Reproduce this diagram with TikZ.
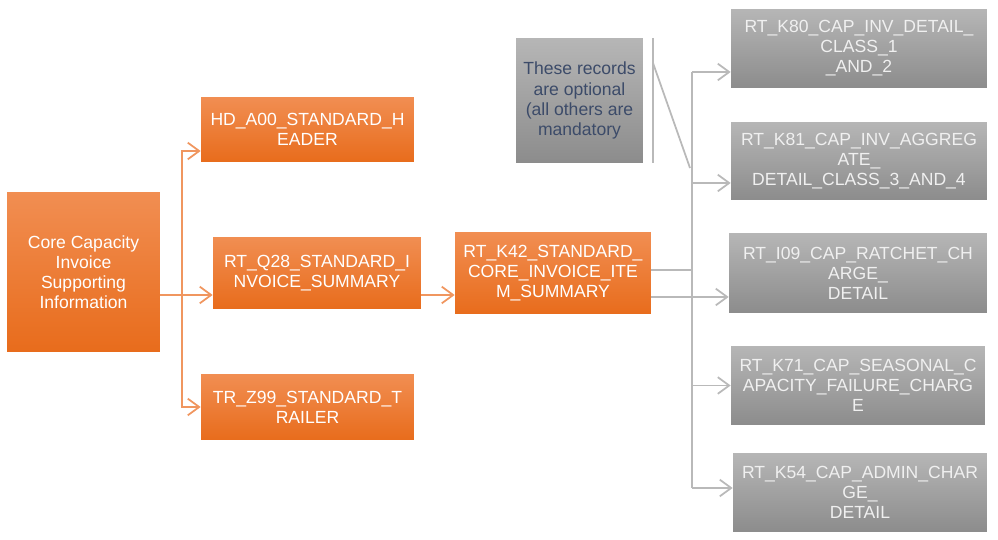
\documentclass[tikz,border=0pt]{standalone}
\usepackage{fontspec}
\setmainfont{Liberation Sans}
\usetikzlibrary{arrows.meta}
\tikzset{>={Straight Barb[length=6.5pt,width=9.5pt]}}
\definecolor{orangetop}{RGB}{241,142,82}
\definecolor{orangebot}{RGB}{232,108,28}
\definecolor{greytop}{RGB}{182,182,182}
\definecolor{greybot}{RGB}{140,140,140}
\definecolor{notetext}{RGB}{60,75,105}
\definecolor{oline}{RGB}{240,150,95}
\colorlet{gline}{gray!55}
\tikzstyle{txt}=[font=\fontsize{10}{11.4}\selectfont,align=center,inner sep=0pt]
\tikzstyle{orec}=[txt,top color=orangetop,bottom color=orangebot,text=white]
\tikzstyle{grec}=[txt,top color=greytop,bottom color=greybot,text=white!94!black]
\tikzstyle{olink}=[oline,line width=1pt]
\tikzstyle{glink}=[gline,line width=1pt]

\begin{document}
\begin{tikzpicture}[x=0.02cm,y=-0.02cm]
  \def\otx{182}
  \def\gtx{692}
  \useasboundingbox (0,0) rectangle (998,540);
  % orange records
  \node[orec,minimum width=3.06cm,minimum height=3.2cm] (core) at (83.5,272)
    {Core Capacity\\Invoice\\Supporting\\Information};
  \node[orec,minimum width=4.26cm,minimum height=1.3cm] (hd) at (307.5,129.5)
    {HD\_A00\_STANDARD\_H\\EADER};
  \node[orec,minimum width=4.16cm,minimum height=1.44cm] (q28) at (317,273)
    {RT\_Q28\_STANDARD\_I\\NVOICE\_SUMMARY};
  \node[orec,minimum width=4.26cm,minimum height=1.32cm] (tr) at (307.5,407)
    {TR\_Z99\_STANDARD\_T\\RAILER};
  \node[orec,minimum width=3.92cm,minimum height=1.64cm] (k42) at (553,273)
    {RT\_K42\_STANDARD\_\\CORE\_INVOICE\_ITE\\M\_SUMMARY};
  % note
  \node[txt,top color=greytop,bottom color=greybot,text=notetext,
    minimum width=2.54cm,minimum height=2.5cm] (note) at (579.5,100.5)
    {These records\\are optional\\(all others are\\mandatory};
  % grey records
  \node[grec,minimum width=5.12cm,minimum height=1.58cm] (k80) at (859,48.5)
    {RT\_K80\_CAP\_INV\_DETAIL\_\\CLASS\_1\\\_AND\_2};
  \node[grec,minimum width=5.12cm,minimum height=1.56cm] (k81) at (859,161)
    {RT\_K81\_CAP\_INV\_AGGREG\\ATE\_\\DETAIL\_CLASS\_3\_AND\_4};
  \node[grec,minimum width=5.16cm,minimum height=1.6cm] (i09) at (858,273)
    {RT\_I09\_CAP\_RATCHET\_CH\\ARGE\_\\DETAIL};
  \node[grec,minimum width=5.08cm,minimum height=1.58cm] (k71) at (858,385.5)
    {RT\_K71\_CAP\_SEASONAL\_C\\APACITY\_FAILURE\_CHARG\\E};
  \node[grec,minimum width=5.08cm,minimum height=1.58cm] (k54) at (860,492.5)
    {RT\_K54\_CAP\_ADMIN\_CHAR\\GE\_\\DETAIL};

  % orange connectors
  \coordinate (ot) at (\otx,295);
  \coordinate (hdin) at ([yshift=-0.43cm]hd.west);
  \coordinate (q28out) at ([yshift=-0.44cm]q28.east);
  \draw[olink] (core.east |- ot) -- (ot);
  \draw[olink,->] (ot) |- (hdin);
  \draw[olink,->] (ot) -- (q28.west |- ot);
  \draw[olink,->] (ot) |- (tr.west);
  \draw[olink,->] (q28out) -- (k42.west |- q28out);

  % grey connectors
  \coordinate (gtop) at (\gtx,72);
  \coordinate (gbot) at (\gtx,488);
  \coordinate (k42a) at ([yshift=0.06cm]k42.east);
  \coordinate (k42b) at ([yshift=-0.48cm]k42.east);
  \coordinate (k81in) at ([yshift=-0.44cm]k81.west);
  \draw[glink] (gtop) -- (gbot);
  \draw[glink] (k42a) -- (gtop |- k42a);
  \draw[glink,->] (gtop) -- (k80.west |- gtop);
  \draw[glink,->] (gtop |- k81in) -- (k81in);
  \draw[glink,->] (k42b) -- (i09.west |- k42b);
  \draw[glink,->] (gtop |- k71.west) -- (k71.west);
  \draw[glink,->] (gbot) -- (k54.west |- gbot);

  % bracket for the optional records
  \coordinate (bt) at (653,38);
  \coordinate (bb) at (653,163);
  \draw[glink] (bt) -- (bb);
  \draw[glink] (653,63) -- (690,168);
\end{tikzpicture}
\end{document}
